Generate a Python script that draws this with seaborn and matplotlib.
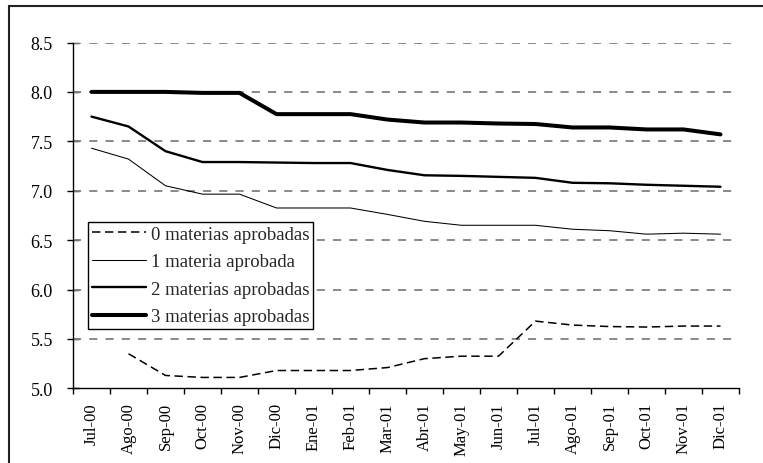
import numpy as np
import pandas as pd
import matplotlib
matplotlib.use("Agg")
import matplotlib.pyplot as plt
from matplotlib.patches import Rectangle
from matplotlib.ticker import FixedLocator, FormatStrFormatter
import seaborn as sns

months = ["Jul-00", "Ago-00", "Sep-00", "Oct-00", "Nov-00", "Dic-00", "Ene-01", "Feb-01",
          "Mar-01", "Abr-01", "May-01", "Jun-01", "Jul-01", "Ago-01", "Sep-01", "Oct-01",
          "Nov-01", "Dic-01"]

mat0 = [np.nan, 5.35, 5.13, 5.11, 5.11, 5.18, 5.18, 5.18, 5.21, 5.30, 5.325, 5.325,
        5.68, 5.64, 5.625, 5.62, 5.63, 5.63]
mat1 = [7.43, 7.32, 7.05, 6.965, 6.965, 6.825, 6.825, 6.825, 6.76, 6.69, 6.65, 6.65,
        6.65, 6.61, 6.595, 6.56, 6.57, 6.56]
mat2 = [7.75, 7.65, 7.40, 7.29, 7.29, 7.285, 7.28, 7.28, 7.21, 7.156, 7.15, 7.14,
        7.13, 7.08, 7.075, 7.06, 7.05, 7.04]
mat3 = [8.0, 8.0, 8.0, 7.99, 7.99, 7.775, 7.775, 7.775, 7.72, 7.69, 7.69, 7.68,
        7.675, 7.64, 7.64, 7.62, 7.62, 7.57]

labels = ["0 materias aprobadas", "1 materia aprobada", "2 materias aprobadas",
          "3 materias aprobadas"]
yticks = [5.0, 5.5, 6.0, 6.5, 7.0, 7.5, 8.0, 8.5]

sns.set_style("white")
plt.rcParams['font.family'] = ['Liberation Serif', 'DejaVu Serif']

fig = plt.figure(figsize=(7.63, 4.64), dpi=100)
ax = fig.add_axes([73 / 763, 1 - 389.3 / 464, 666 / 763, 345.8 / 464])

xpos = np.arange(len(months))
styles = [
    dict(linewidth=1.1, linestyle=(0, (5.5, 3.0))),
    dict(linewidth=0.75, linestyle='-'),
    dict(linewidth=1.7, linestyle='-'),
    dict(linewidth=2.9, linestyle='-'),
]
for vals, lab, st in zip([mat0, mat1, mat2, mat3], labels, styles):
    df = pd.DataFrame({"x": xpos, "y": vals})
    sns.lineplot(data=df, x="x", y="y", ax=ax, color="black", label=lab, zorder=3, **st)

ax.set_xlim(-0.5, len(months) - 0.5)
ax.set_ylim(5.0, 8.5)
ax.set_xlabel("")
ax.set_ylabel("")

# grid (dashed, gray) except on the bottom axis
ax.grid(False)
for yv in yticks[1:]:
    ax.axhline(yv, color="#808080", linestyle=(0, (4.5, 4.5)), linewidth=1.3, zorder=1)

# spines
for s in ["top", "right"]:
    ax.spines[s].set_visible(False)
for s in ["left", "bottom"]:
    ax.spines[s].set_color("black")
    ax.spines[s].set_linewidth(1.0)
    ax.spines[s].set_zorder(4)

# x ticks
ax.set_xticks(xpos)
ax.set_xticklabels(months, rotation=90, fontsize=12)
ax.xaxis.set_minor_locator(FixedLocator(np.arange(-0.5, len(months), 1.0)))
ax.tick_params(axis="x", which="major", length=0, pad=10, colors="black")
ax.tick_params(axis="x", which="minor", length=4.5, width=1.0, direction="out",
               color="black", bottom=True)

# y ticks
ax.set_yticks(yticks)
ax.yaxis.set_major_formatter(FormatStrFormatter("%.1f"))
ax.tick_params(axis="y", which="major", length=9, width=1.0, direction="inout",
               pad=10, labelsize=13, colors="black", left=True)

# legend
leg = ax.legend(loc="upper left", bbox_to_anchor=(15 / 666, (389.3 - 223) / 345.8),
                borderaxespad=0, frameon=True, fancybox=False, framealpha=1,
                edgecolor="black", handlelength=2.9, handletextpad=0.25,
                labelspacing=0.55, borderpad=0.2, prop={"size": 13.5})
leg.get_frame().set_linewidth(1.0)
leg.set_zorder(5)

# outer border (partially cropped in the reference)
fig.patches.append(Rectangle((9 / 763, -0.05), 1.1, 1 - 6.5 / 464 + 0.05,
                             transform=fig.transFigure, fill=False,
                             edgecolor="#222222", linewidth=1.5))

fig.savefig("out.png", dpi=100)
